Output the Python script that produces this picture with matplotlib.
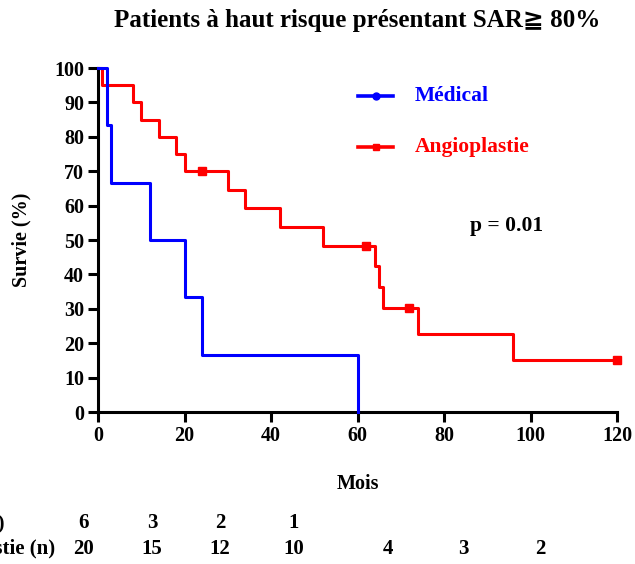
import matplotlib
matplotlib.use("Agg")
import matplotlib.pyplot as plt

# survival curves (months, %)
med_t = [0, 2, 3, 12, 20, 24, 60]
med_s = [100, 83.3, 66.7, 50, 33.3, 16.7, 0]

ang_t = [0, 1, 8, 10, 14, 18, 20, 30, 34, 42, 52, 64, 65, 66, 74, 96, 120]
ang_s = [100, 95, 90, 85, 80, 75, 70, 64.6, 59.2, 53.8, 48.4, 42.3, 36.3, 30.2, 22.6, 15.1, 15.1]

# censored points
cens_t = [24, 62, 72, 120]
cens_s = [70, 48.4, 30.2, 15.1]

# number at risk
risk_med = ["6", "3", "2", "1"]
risk_ang = ["20", "15", "12", "10", "4", "3", "2"]
risk_xpos = [83, 152, 220, 294, 388, 463, 540]  # pixel columns of the table

blue = "#0000FF"
red = "#FF0000"
serif = ["Liberation Serif", "DejaVu Sans", "Noto Sans CJK JP"]

plt.rcParams["font.family"] = serif
plt.rcParams["font.weight"] = "bold"

W, H = 635, 564
fig = plt.figure(figsize=(W / 100, H / 100), dpi=100)
ax = fig.add_axes([98 / W, 1 - 412 / H, (617 - 98) / W, (412 - 68) / H])

ax.step(med_t, med_s, where="post", color=blue, lw=2.2, clip_on=False, zorder=3)
ax.step(ang_t, ang_s, where="post", color=red, lw=2.2, clip_on=False, zorder=2)
ax.plot(cens_t, cens_s, "s", color=red, ms=6, clip_on=False, zorder=4)

ax.set_xlim(0, 120)
ax.set_ylim(0, 100)
ax.set_xticks(range(0, 121, 20))
ax.set_yticks(range(0, 101, 10))
for s in ["top", "right"]:
    ax.spines[s].set_visible(False)
for s in ["left", "bottom"]:
    ax.spines[s].set_linewidth(2.2)
ax.tick_params(width=2.2, length=7, labelsize=14.5, pad=3)
for lab in ax.get_xticklabels() + ax.get_yticklabels():
    lab.set_fontweight("bold")

ax.set_xlabel("Mois", fontsize=14.5, fontweight="bold", labelpad=20)
ax.set_ylabel("Survie (%)", fontsize=14.5, fontweight="bold", labelpad=16)

# legend
ax.plot([0.500, 0.569], [0.92, 0.92], color=blue, lw=2.6, transform=ax.transAxes, clip_on=False)
ax.plot([0.535], [0.92], "o", color=blue, ms=5, transform=ax.transAxes, clip_on=False)
ax.text(0.611, 0.92, "Médical", color=blue, fontsize=15.5, fontweight="bold",
        va="center", transform=ax.transAxes)
ax.plot([0.500, 0.569], [0.77, 0.77], color=red, lw=2.6, transform=ax.transAxes, clip_on=False)
ax.plot([0.535], [0.77], "s", color=red, ms=5, transform=ax.transAxes, clip_on=False)
ax.text(0.611, 0.77, "Angioplastie", color=red, fontsize=15.5, fontweight="bold",
        va="center", transform=ax.transAxes)

ax.text(0.788, 0.542, "p = 0.01", fontsize=15.5, fontweight="bold", ha="center",
        va="center", transform=ax.transAxes)

fig.text(357 / W, 1 - 20 / H, "Patients à haut risque présentant SAR\u2267 80%",
         fontsize=18, fontweight="bold", ha="center", va="center", family=serif)

# number at risk table (row labels run off the left edge, as in the original)
fig.text(5 / W, 1 - 523 / H, "Médical (n)", fontsize=15, fontweight="bold",
         ha="right", va="center")
fig.text(55 / W, 1 - 549 / H, "Angioplastie (n)", fontsize=15, fontweight="bold",
         ha="right", va="center")
for x, v in zip(risk_xpos, risk_med):
    fig.text(x / W, 1 - 523 / H, v, fontsize=15, fontweight="bold", ha="center", va="center")
for x, v in zip(risk_xpos, risk_ang):
    fig.text(x / W, 1 - 549 / H, v, fontsize=15, fontweight="bold", ha="center", va="center")

fig.savefig("out.png", dpi=100)
